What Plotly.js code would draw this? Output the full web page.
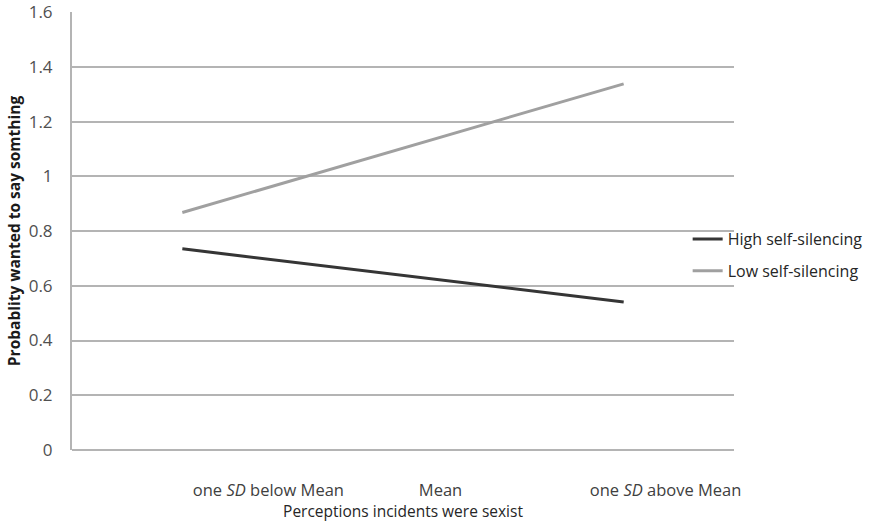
<!DOCTYPE html>
<html>
<head>
<meta charset="utf-8">
<script src="https://cdn.plot.ly/plotly-3.0.1.min.js"></script>
<style>html,body{margin:0;padding:0;background:#fff;}#chart{width:875px;height:522px;}</style>
</head>
<body>
<div id="chart"></div>
<script>
const categories = [0, 1, 2];
const tickLabels = ["one <i>SD</i> below Mean", "Mean", "one <i>SD</i> above Mean"];
const tickPositions = [0.39, 1.17, 2.19];
const highSelfSilencing = [0.735, 0.638, 0.541];
const lowSelfSilencing = [0.868, 1.103, 1.338];
const seriesNames = ["High self-silencing", "Low self-silencing"];
const yTickValues = [0, 0.2, 0.4, 0.6, 0.8, 1, 1.2, 1.4, 1.6];
const yTickLabels = ["0", "0.2", "0.4", "0.6", "0.8", "1", "1.2", "1.4", "1.6"];

const font = "Open Sans, Liberation Sans, sans-serif";

const traces = [
  {x: categories, y: highSelfSilencing, name: seriesNames[0], type: "scatter", mode: "lines",
   line: {color: "#353535", width: 3}, legendgroup: "a"},
  {x: categories, y: lowSelfSilencing, name: seriesNames[1], type: "scatter", mode: "lines",
   line: {color: "#a0a0a0", width: 3}, legendgroup: "b"}
];

const layout = {
  width: 875, height: 522,
  margin: {l: 72, r: 141, t: 12, b: 72, autoexpand: false},
  paper_bgcolor: "#fff", plot_bgcolor: "#fff",
  font: {family: font, size: 16, color: "#404040"},
  showlegend: true,
  legend: {x: 0.93, xanchor: "left", y: 0.445, yanchor: "middle", font: {size: 16, color: "#262626"},
           tracegroupgap: 8, traceorder: "grouped", itemwidth: 30, bgcolor: "rgba(0,0,0,0)"},
  xaxis: {range: [-0.5, 2.5], tickvals: tickPositions, ticktext: tickLabels, showgrid: false,
          zeroline: false, showline: false, ticks: "outside", ticklen: 25, tickcolor: "rgba(0,0,0,0)",
          tickfont: {size: 16.5, color: "#404040"}, automargin: false,
          title: {text: "Perceptions incidents were sexist", font: {size: 15.5, color: "#262626"}, standoff: 0}},
  yaxis: {range: [0, 1.6005], tickmode: "array", tickvals: yTickValues, ticktext: yTickLabels,
          showgrid: true, gridcolor: "#b4b4b4", gridwidth: 2,
          zeroline: true, zerolinecolor: "#b4b4b4", zerolinewidth: 2,
          showline: true, linecolor: "#b4b4b4", linewidth: 2, automargin: false,
          ticks: "outside", ticklen: 14, tickcolor: "rgba(0,0,0,0)",
          tickfont: {size: 17, color: "#505050"},
          title: {text: "<b>Probablity wanted to say somthing</b>", font: {size: 15.5, color: "#1a1a1a"}, standoff: 4}}
};

Plotly.newPlot("chart", traces, layout, {displayModeBar: false, staticPlot: true});
</script>
</body>
</html>
